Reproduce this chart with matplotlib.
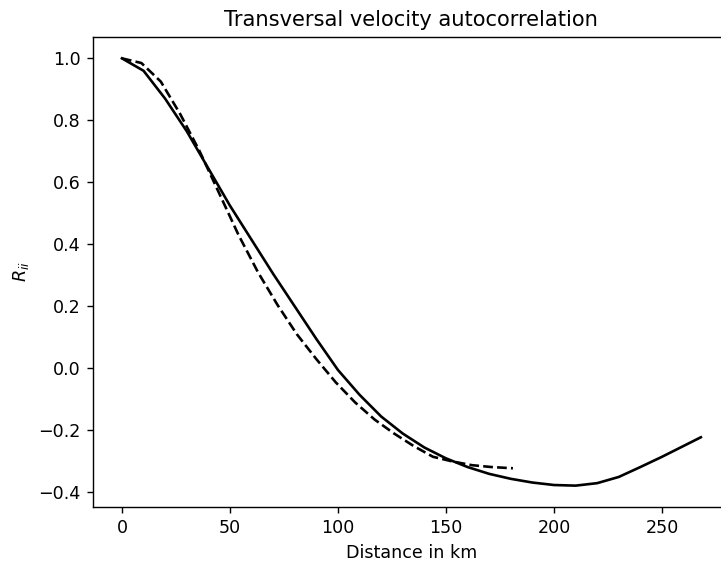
import matplotlib
matplotlib.use("Agg")
import matplotlib.pyplot as plt

# Solid curve
dist_solid = [0, 10, 20, 30, 40, 50, 60, 70, 80, 90, 100, 110, 120, 130, 140,
              150, 160, 170, 180, 190, 200, 210, 220, 230, 240, 250, 260, 268]
r_solid = [1.0, 0.96, 0.87, 0.765, 0.645, 0.525, 0.415, 0.305, 0.2, 0.095, -0.005,
           -0.085, -0.155, -0.21, -0.255, -0.29, -0.318, -0.34, -0.356, -0.368,
           -0.376, -0.378, -0.37, -0.35, -0.318, -0.285, -0.25, -0.222]

# Dashed curve
dist_dashed = [0, 9, 18, 27, 36, 45, 54, 63, 72, 81, 90, 99, 108, 117, 126,
               135, 144, 153, 162, 171, 181]
r_dashed = [1.0, 0.985, 0.925, 0.82, 0.70, 0.565, 0.43, 0.31, 0.205, 0.11,
            0.03, -0.045, -0.11, -0.165, -0.21, -0.25, -0.285, -0.30, -0.312,
            -0.318, -0.322]

DPI = 126
fig = plt.figure(figsize=(721 / DPI, 562 / DPI), dpi=DPI)
ax = fig.add_axes([93 / 721, 1 - 507 / 562, (729.8 - 93) / 721, (507 - 37) / 562])

ax.plot(dist_solid, r_solid, color="black", lw=1.5)
ax.plot(dist_dashed, r_dashed, color="black", lw=1.5, ls="--")

ax.set_title("Transversal velocity autocorrelation")
ax.set_xlabel("Distance in km")
ax.set_ylabel(r"$R_{ii}$")

fig.savefig("out.png", dpi=DPI)
